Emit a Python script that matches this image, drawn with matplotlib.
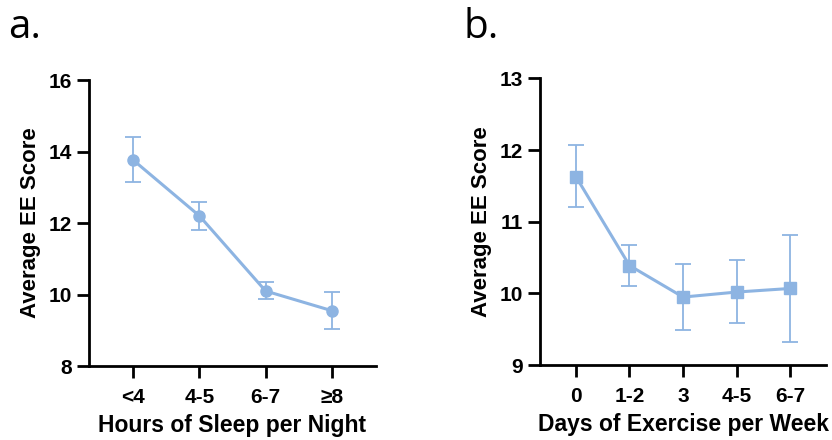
import matplotlib
matplotlib.use("Agg")
import matplotlib.pyplot as plt

plt.rcParams['font.family'] = ['Liberation Sans', 'DejaVu Sans']

# panel a: sleep
sleep_labels = ['<4', '4-5', '6-7', '≥8']
sleep_mean = [13.76, 12.20, 10.10, 9.55]
sleep_lo = [13.14, 11.82, 9.87, 9.05]
sleep_hi = [14.40, 12.59, 10.34, 10.07]

# panel b: exercise
ex_labels = ['0', '1-2', '3', '4-5', '6-7']
ex_mean = [11.63, 10.39, 9.95, 10.02, 10.07]
ex_lo = [11.20, 10.10, 9.49, 9.59, 9.32]
ex_hi = [12.07, 10.68, 10.41, 10.46, 10.82]

blue = '#8db4e2'

fig = plt.figure(figsize=(8.32, 4.4), dpi=100)
ax1 = fig.add_axes([0.107, 0.168, 0.345, 0.65])
ax2 = fig.add_axes([0.649, 0.170, 0.344, 0.652])


def draw(ax, labels, mean, lo, hi, marker, ylim, yticks, xlabel):
    x = list(range(len(labels)))
    yerr = [[m - l for m, l in zip(mean, lo)], [h - m for m, h in zip(mean, hi)]]
    ax.errorbar(x, mean, yerr=yerr, color=blue, ecolor=blue, elinewidth=1.3,
                capsize=6, capthick=1.3, marker=marker, markersize=8,
                linewidth=2.2, zorder=3)
    ax.set_xlim(-0.67, len(labels) - 1 + 0.67)
    ax.set_ylim(*ylim)
    ax.set_yticks(yticks)
    ax.set_xticks(x)
    ax.set_xticklabels(labels)
    for s in ['top', 'right']:
        ax.spines[s].set_visible(False)
    for s in ['left', 'bottom']:
        ax.spines[s].set_linewidth(2)
    ax.tick_params(width=2, length=8.5, labelsize=15, pad=4)
    ax.tick_params(axis='x', pad=7)
    for t in ax.get_xticklabels() + ax.get_yticklabels():
        t.set_fontweight('bold')
    ax.set_ylabel('Average EE Score', fontsize=16, fontweight='bold', labelpad=5)
    ax.set_xlabel(xlabel, fontsize=16.5, fontweight='bold', labelpad=5)


draw(ax1, sleep_labels, sleep_mean, sleep_lo, sleep_hi, 'o', (8, 16), [8, 10, 12, 14, 16],
     'Hours of Sleep per Night')
draw(ax2, ex_labels, ex_mean, ex_lo, ex_hi, 's', (9, 13), [9, 10, 11, 12, 13],
     'Days of Exercise per Week')

fig.text(0.010, 0.914, 'a.', fontsize=29, va='baseline', family=['Open Sans', 'DejaVu Sans'])
fig.text(0.557, 0.914, 'b.', fontsize=29, va='baseline', family=['Open Sans', 'DejaVu Sans'])

fig.savefig('out.png', dpi=100)
